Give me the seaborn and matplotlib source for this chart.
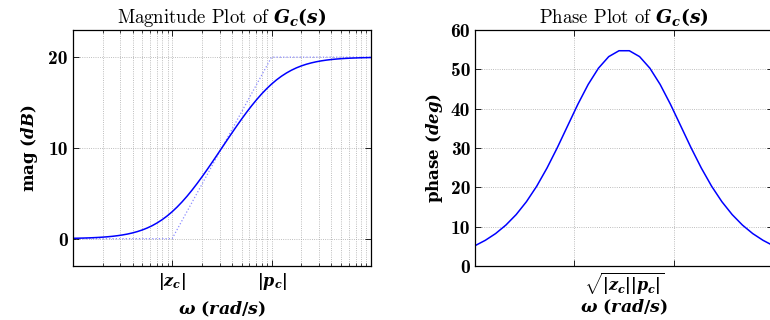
import matplotlib
matplotlib.use('Agg')
import matplotlib.pyplot as plt
import matplotlib.ticker as mticker
import pandas as pd
import seaborn as sns

# lead compensator, |z_c| = 1, |p_c| = 10 (rad/s)
w_mag = [0.1, 0.1122, 0.1259, 0.1413, 0.1585, 0.1778, 0.1995, 0.2239, 0.2512, 0.2818,
         0.3162, 0.3548, 0.3981, 0.4467, 0.5012, 0.5623, 0.6310, 0.7079, 0.7943, 0.8913,
         1.0, 1.122, 1.259, 1.413, 1.585, 1.778, 1.995, 2.239, 2.512, 2.818,
         3.162, 3.548, 3.981, 4.467, 5.012, 5.623, 6.310, 7.079, 7.943, 8.913,
         10.0, 11.22, 12.59, 14.13, 15.85, 17.78, 19.95, 22.39, 25.12, 28.18,
         31.62, 35.48, 39.81, 44.67, 50.12, 56.23, 63.10, 70.79, 79.43, 89.13, 100.0]
mag_db = [0.043, 0.054, 0.068, 0.085, 0.107, 0.134, 0.168, 0.210, 0.263, 0.329,
          0.410, 0.509, 0.632, 0.782, 0.962, 1.180, 1.438, 1.743, 2.097, 2.505,
          2.967, 3.485, 4.056, 4.679, 5.348, 6.058, 6.804, 7.578, 8.374, 9.183,
          10.0, 10.817, 11.627, 12.422, 13.196, 13.942, 14.652, 15.321, 15.944, 16.515,
          17.033, 17.495, 17.903, 18.257, 18.562, 18.820, 19.038, 19.219, 19.368, 19.491,
          19.590, 19.672, 19.737, 19.790, 19.832, 19.866, 19.893, 19.915, 19.932, 19.946, 19.957]

w_asym = [0.1, 1.0, 10.0, 100.0]
mag_asym = [0, 0, 20, 20]

w_ph = [0.1, 0.1269, 0.1610, 0.2043, 0.2593, 0.3290, 0.4175, 0.5298, 0.6723, 0.8532,
        1.0826, 1.3738, 1.7433, 2.2122, 2.8072, 3.5622, 4.5204, 5.7362, 7.2790, 9.2367,
        11.721, 14.874, 18.874, 23.950, 30.392, 38.566, 48.939, 62.102, 78.805, 100.0]
phase_deg = [5.14, 6.51, 8.22, 10.38, 13.05, 16.33, 20.27, 24.89, 30.06, 35.59,
             41.10, 46.13, 50.27, 53.21, 54.71, 54.71, 53.21, 50.27, 46.13, 41.10,
             35.59, 30.06, 24.89, 20.27, 16.33, 13.05, 10.38, 8.22, 6.51, 5.14]

z_c, p_c, w_mid = 1.0, 10.0, 3.1623

sns.set_style('ticks')
plt.rcParams['font.family'] = ['cmr10', 'DejaVu Serif']
plt.rcParams['axes.formatter.use_mathtext'] = True
plt.rcParams['mathtext.fontset'] = 'custom'
plt.rcParams['mathtext.it'] = 'DejaVu Serif:italic:bold'
plt.rcParams['mathtext.rm'] = 'DejaVu Serif:bold'
plt.rcParams['mathtext.bf'] = 'DejaVu Serif:bold'
plt.rcParams['text.color'] = 'black'
plt.rcParams['axes.labelcolor'] = 'black'

blue = '#0000ff'
gridkw = dict(linestyle=':', color='#a8a8a8', linewidth=0.6)

fig = plt.figure(figsize=(7.7, 3.2), dpi=100)
ax1 = fig.add_axes([0.0944, 0.169, 0.3874, 0.7375])
ax2 = fig.add_axes([0.6169, 0.169, 0.3874, 0.7375])

df_mag = pd.DataFrame({'w': w_mag, 'mag': mag_db})
df_asym = pd.DataFrame({'w': w_asym, 'mag': mag_asym})
df_ph = pd.DataFrame({'w': w_ph, 'phase': phase_deg})

# magnitude
sns.lineplot(data=df_asym, x='w', y='mag', ax=ax1, color='#8c8cff',
             linestyle=':', linewidth=0.9, sort=False, estimator=None)
sns.lineplot(data=df_mag, x='w', y='mag', ax=ax1, color=blue,
             linewidth=1.1, sort=False, estimator=None)
ax1.set_xscale('log')
ax1.set_xlim(0.1, 100)
ax1.set_ylim(-3, 23)
ax1.set_yticks([0, 10, 20])
ax1.set_yticklabels(['0', '10', '20'], fontfamily='cmb10', fontsize=14)
ax1.xaxis.set_major_locator(mticker.FixedLocator([0.1, z_c, p_c, 100]))
ax1.xaxis.set_major_formatter(mticker.FixedFormatter(['', r'$|z_c|$', r'$|p_c|$', '']))
ax1.xaxis.set_minor_locator(mticker.LogLocator(base=10, subs=range(2, 10), numticks=20))
ax1.xaxis.set_minor_formatter(mticker.NullFormatter())
ax1.grid(True, which='both', **gridkw)
ax1.set_title(r'Magnitude Plot of $G_c(s)$', fontsize=13.5, pad=5)
ax1.set_xlabel(r'$\omega\ (rad/s)$', fontsize=12.5, labelpad=6)
ax1.set_ylabel(r'$\mathrm{mag}\ (dB)$', fontsize=12, labelpad=6)

# phase
sns.lineplot(data=df_ph, x='w', y='phase', ax=ax2, color=blue,
             linewidth=1.1, sort=False, estimator=None)
ax2.set_xscale('log')
ax2.set_xlim(0.1, 100)
ax2.set_ylim(0, 60)
ax2.set_yticks(range(0, 61, 10))
ax2.set_yticklabels([str(v) for v in range(0, 61, 10)], fontfamily='cmb10', fontsize=14)
ax2.xaxis.set_major_locator(mticker.FixedLocator([z_c, p_c]))
ax2.xaxis.set_major_formatter(mticker.NullFormatter())
ax2.xaxis.set_minor_locator(mticker.FixedLocator([w_mid]))
ax2.xaxis.set_minor_formatter(mticker.FixedFormatter([r'$\sqrt{|z_c||p_c|}$']))
ax2.grid(True, which='major', **gridkw)
ax2.set_title(r'Phase Plot of $G_c(s)$', fontsize=13.5, pad=5)
ax2.set_xlabel(r'$\omega\ (rad/s)$', fontsize=12.5, labelpad=0)
ax2.set_ylabel(r'$\mathrm{phase}\ (deg)$', fontsize=12, labelpad=4)

for ax in (ax1, ax2):
    ax.tick_params(which='both', direction='in', top=True, right=True, colors='black')
    ax.tick_params(axis='x', which='both', labelsize=11.5)
    ax.tick_params(which='major', length=4, width=0.6)
    ax.tick_params(which='minor', length=2, width=0.5)
    for s in ax.spines.values():
        s.set_visible(True)
        s.set_color('black')
        s.set_linewidth(0.9)
ax2.tick_params(axis='x', which='minor', length=0, pad=4)

fig.savefig('out.png', dpi=100)
